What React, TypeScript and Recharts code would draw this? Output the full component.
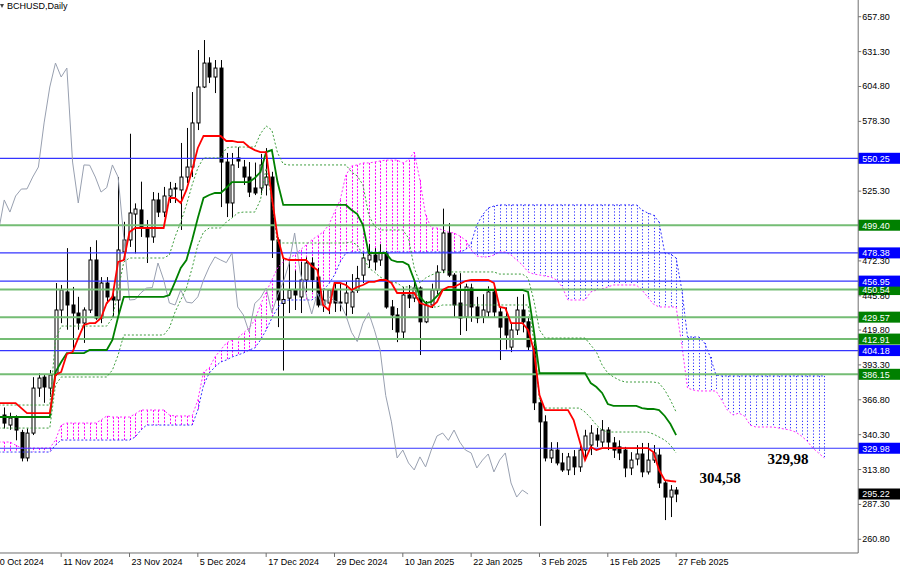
import React from 'react';
import { ComposedChart, Bar, Line, XAxis, YAxis, ReferenceLine, ReferenceDot } from 'recharts';

const FONT = '"Liberation Sans", Arial, sans-serif';
const SERIF = '"Liberation Serif", "Times New Roman", serif';

// x categories are day numbers, day 0 = 30 Oct 2024
const LAST_DAY = 151;
const tickDays = [0, 12, 24, 36, 48, 60, 72, 84, 96, 108, 120];
const tickLabels = ['30 Oct 2024', '11 Nov 2024', '23 Nov 2024', '5 Dec 2024', '17 Dec 2024', '29 Dec 2024',
  '10 Jan 2025', '22 Jan 2025', '3 Feb 2025', '15 Feb 2025', '27 Feb 2025'];
const priceTicks = [657.8, 631.3, 604.8, 578.3, 525.3, 472.3, 445.8, 419.8, 393.3, 366.8, 340.3, 313.8, 287.3, 260.8];
const blueLevels = [550.25, 478.38, 456.95, 404.18, 329.98];
const greenLevels = [499.4, 450.54, 429.57, 412.91, 386.15];
const lastPrice = 295.22;

// candles, day 2 .. day 120
const CANDLE_FROM = 2;
const opens = [
  355.2, 347.6, 352.9, 342, 322.6, 341.5, 375.7, 384, 375.7, 387,
  435, 448.7, 438.8, 432.7, 425.1, 435, 473, 428.9, 455.5, 444.9,
  442.6, 479.1, 488.2, 507.9, 511, 497.3, 490.5, 518.6, 509.4, 521.6,
  527.7, 526.2, 536, 543.6, 577.1, 604.4, 622.6, 612, 618.8, 547.4,
  516.3, 550.5, 543.6, 536, 527.7, 527.7, 530, 536, 488.2, 440,
  444, 450, 444.9, 457.8, 470.7, 460, 438.8, 440.3, 450.2, 441,
  440.3, 437.3, 450, 461.5, 473, 476.8, 473, 478.3, 437.3, 431.2,
  418.3, 446.4, 444.1, 451.7, 426, 438.8, 450.2, 465.4, 493.5, 461.5,
  440.3, 429.6, 451.7, 437.3, 429.6, 433.5, 448.7, 433.5, 430, 406.8,
  419.8, 435, 426, 407, 364.5, 350, 322.6, 328.6, 318.8, 313.5,
  323.4, 315.8, 328.6, 332.4, 340, 334.7, 343.8, 334, 331, 328.6,
  315, 321.8, 325.6, 312, 321, 324.8, 303.6, 292.9, 298.2,
];
const highs = [
  361, 357, 355, 344, 345, 384, 387, 386, 389.4, 455.5,
  454, 482, 452.5, 445, 437, 482.9, 488, 460, 460, 452.5,
  536, 502, 568.9, 516, 532.5, 503.4, 524.6, 524, 528.5, 532.3,
  531.5, 561.9, 573.3, 600.6, 632.5, 640.1, 627, 624.9, 624.9, 554.3,
  554.3, 558.7, 549, 547.4, 547, 553.6, 558, 540, 490, 475,
  473, 465, 471.5, 475, 475, 467, 450.2, 451, 455, 455,
  456.3, 462.3, 468.5, 478.5, 485, 482, 485, 480, 442.6, 436.5,
  452.5, 454, 457, 453, 441.8, 455, 469, 512, 501, 463,
  463, 455, 455, 445, 447, 453, 452, 437, 437, 425,
  445, 447, 430, 412, 367, 355, 334.6, 334.6, 326.4, 326.4,
  328.6, 334, 344, 347.6, 345.4, 351.4, 346, 338.5, 336, 331,
  327, 332.4, 334, 334, 332.4, 330, 305, 302, 300.5,
];
const lows = [
  345, 344, 336, 320, 320, 340, 369, 364.5, 369, 385,
  425, 420, 404.6, 420, 410, 432.7, 427.5, 425, 440, 429.6,
  429.6, 473, 482.9, 478, 490.5, 470.7, 486, 505.6, 505.6, 516.3,
  516.3, 495.8, 531.5, 536, 571.7, 603.6, 607.4, 599.8, 513.2, 505.6,
  505.6, 542.9, 530, 520.8, 522.3, 522.3, 522, 474.5, 422, 389,
  432.7, 435, 432.7, 448.7, 448.7, 437, 433.5, 431.9, 433.5, 434,
  430, 432, 448, 455.5, 467, 465, 468.5, 436, 419.8, 410.6,
  413.6, 436.5, 441, 400.8, 425, 436.5, 447, 463, 460, 429.6,
  416, 419, 426, 425, 425, 429.6, 429.6, 397, 405, 403,
  416, 418, 404, 359, 271, 320, 318.8, 317, 312, 309.6,
  309.6, 312, 321, 324.8, 331, 331, 328.6, 322.6, 321, 308,
  309.6, 317, 308, 310, 318.8, 299.8, 275.4, 277.7, 289,
];
const closes = [
  349.1, 352.9, 343.8, 322.6, 341.5, 375.7, 383.3, 376.5, 385.6, 435,
  450.2, 438.8, 432.7, 425.1, 435, 473, 428.9, 455.5, 444.9, 442.6,
  480.6, 488.2, 508.7, 511.7, 497.3, 490.5, 518.6, 509.4, 521.6, 526.9,
  527, 536, 543.6, 577.1, 604.4, 622.6, 612, 618.8, 547.4, 516.3,
  545.2, 548.2, 536, 524.6, 523.9, 545.2, 536, 488.2, 442.6, 443,
  450, 446.4, 457.8, 470.7, 458, 438.8, 442.6, 450.2, 440.3, 440.3,
  447.9, 448.7, 459, 474.5, 476.8, 471.5, 478.3, 437.3, 431.2, 418.3,
  446.4, 444.1, 451.7, 426, 438.8, 450.2, 463.8, 493.5, 461.5, 438.8,
  428.9, 452.5, 437.3, 428.9, 435, 448.7, 433.5, 422, 416, 419.8,
  435, 426, 407, 364.5, 350, 322.6, 328.6, 318.8, 313.5, 323.4,
  315.8, 328.6, 339.3, 341.5, 336.2, 343.8, 334.7, 328.6, 326.4, 315,
  321, 325.6, 312, 321, 326.4, 303.6, 292.9, 298.2, 295.2,
];

// Ichimoku lines, day 1 onward
const tenkan = [
  364.3, 364.3, 364.3, 364.3, 360.5, 356.7, 356.7, 356.7, 356.7, 356.7,
  385.6, 387.9, 401.6, 403.1, 413.7, 423.6, 425.1, 425.1, 428.9, 440.3,
  444.9, 471.5, 473, 494.2, 497.3, 497.3, 497.3, 497.3, 497.3, 497.3,
  520.1, 520.1, 516.3, 526.2, 541.3, 558.1, 567.2, 567.2, 567.2, 567.2,
  563.4, 563.4, 562.6, 562.6, 558.8, 556.5, 555, 555, 520.8, 490.5,
  474.5, 473, 473, 473, 473, 468.4, 465.4, 438.8, 435, 455.5,
  455.5, 454, 450.2, 452.5, 454, 456.3, 456.3, 457.8, 457.8, 455.5,
  447.9, 447.9, 447.9, 447.9, 440.3, 438.8, 437.3, 441.1, 450.2, 452.5,
  452.5, 454.7, 457, 457.8, 457.8, 457.8, 457.8, 455.5, 437.3, 436.5,
  425.1, 425.1, 425.1, 419.8, 404.6, 370.4, 359, 359, 359, 359,
  359, 351.4, 336.2, 321, 330.9, 328.6, 330.1, 330.1, 330.1, 330.1,
  330.1, 330.1, 330.1, 330.1, 330.1, 327.1, 313.4, 305.8, 305.1, 304.6,
];
const kijun = [
  353.7, 353.7, 353.7, 353.7, 353.7, 353.7, 353.7, 353.7, 353.7, 353.7,
  387.9, 395.5, 402.3, 402.3, 402.3, 402.3, 404.6, 404.6, 404.6, 404.6,
  412.2, 429.7, 444.9, 444.9, 444.9, 444.9, 444.9, 444.9, 444.9, 444.9,
  446.4, 456.3, 466.9, 473, 488.2, 504.9, 520.1, 522.4, 523.9, 523.9,
  527.7, 532.2, 532.2, 532.2, 532.2, 535.3, 539.8, 555, 556.5, 532.2,
  514.8, 514.8, 514.8, 514.8, 514.8, 514.8, 514.8, 514.8, 514.8, 514.8,
  514.8, 514.8, 511, 507.9, 499.6, 478.3, 478.3, 478.3, 478.3, 473,
  471.5, 471.5, 469.2, 457.8, 444.9, 440.3, 441.1, 445.6, 450.2, 450.2,
  450.2, 450.2, 450.2, 450.2, 450.2, 450.2, 450.2, 450.2, 450.2, 450.2,
  450.2, 450.2, 450.2, 448.7, 419.8, 387.1, 387.1, 387.1, 387.1, 387.1,
  387.1, 387.1, 387.1, 387.1, 379.5, 376.5, 372, 363.6, 362.1, 362.1,
  362.1, 362.1, 362.1, 360.5, 359.8, 359.8, 359, 354.5, 348.4, 340,
];
const spanA = [
  334.7, 334.7, 334.7, 332.4, 330.1, 330.1, 330.1, 330.1, 330.1, 330.1,
  336.2, 347.6, 349.1, 349.1, 349.1, 349.1, 349.1, 349.1, 351.4, 354.5,
  353.7, 353.7, 353.7, 353.7, 356, 359, 359, 359, 359, 359,
  355.2, 354.5, 354.5, 354.5, 354.5, 366.6, 387.9, 390.9, 399.3, 404.6,
  409.9, 412.2, 413.7, 417.5, 421.3, 427.4, 438.8, 448.7, 457.8, 466.9,
  471.5, 474.5, 476.8, 480.6, 484.4, 488.2, 491.2, 494.2, 499.6, 509.4,
  518.6, 537.5, 544.4, 545.2, 546.7, 546.7, 547.4, 548.2, 548.9, 548.9,
  548.9, 546.7, 548.9, 555, 533.8, 507.2, 497.3, 497.3, 495.8, 494.2,
  493.5, 491.2, 488.2, 480.6, 476, 475.3, 475.3, 476.8, 479.1, 479.1,
  476.8, 473, 469.2, 463.9, 462.3, 461.6, 460.8, 460.1, 457.8, 452.5,
  442.6, 442.6, 442.6, 442.6, 448.7, 450.2, 451, 452.5, 454, 454,
  454, 454, 454, 450.2, 444.9, 439.5, 437.3, 437.3, 437.3, 437.3,
  408.4, 375.7, 374.2, 373.5, 373.5, 373.5, 373.5, 366.6, 359, 355.2,
  356.7, 354.5, 347.6, 346.1, 346.1, 346.1, 346.1, 345.3, 344.6, 343.8,
  342.3, 339.3, 335.5, 330.1, 326.4, 322.6,
];
const spanB = [
  327.1, 327.1, 327.1, 327.1, 327.1, 327.1, 327.1, 327.1, 327.1, 327.1,
  332.4, 336.2, 336.2, 336.2, 336.2, 336.2, 336.2, 336.2, 336.2, 336.2,
  336.2, 336.2, 336.2, 336.2, 338.5, 343.8, 347.6, 347.6, 347.6, 347.6,
  347.6, 347.6, 347.6, 347.6, 347.6, 359, 378, 387.1, 391.7, 395.5,
  397, 399.3, 400.8, 402.3, 404.6, 406.1, 412.2, 419.8, 428.9, 436.5,
  441.8, 442.6, 442.6, 442.6, 442.6, 442.6, 445.6, 450.2, 454.7, 461.6,
  471.5, 478.3, 479.1, 479.1, 479.1, 479.1, 479.1, 479.1, 479.1, 479.1,
  479.1, 479.1, 479.1, 479.1, 479.1, 479.1, 479.1, 479.1, 479.1, 479.1,
  479.1, 479.1, 480.6, 485.9, 499.6, 507.2, 512.5, 514, 514.8, 514.8,
  514.8, 514.8, 514.8, 514.8, 514.8, 514.8, 514.8, 514.8, 514.8, 514.8,
  514.8, 514.8, 514.8, 514.8, 514.8, 514.8, 514.8, 514.8, 514.8, 514.8,
  514.8, 514.8, 514.8, 511, 508.7, 507.2, 501.8, 478.3, 477.5, 474.5,
  450.2, 414.5, 414.5, 414.5, 409.9, 399.3, 385.6, 384.9, 384.9, 384.9,
  384.9, 384.9, 384.9, 384.9, 384.9, 384.9, 384.9, 384.9, 384.9, 384.9,
  384.9, 384.9, 384.9, 384.9, 384.9, 384.9,
];
const chikou = [
  495, 518.6, 509.4, 521.6, 526.9, 527, 536, 543.6, 577.1, 604.4,
  622.6, 612, 618.8, 547.4, 516.3, 545.2, 545, 536, 524.6, 528,
  545.2, 536, 490, 442.6, 443, 448, 451.7, 452, 470.7, 458,
  440.3, 438.8, 450.2, 441, 440.3, 445, 457.8, 467.7, 475.3, 473,
  471, 478.3, 437.3, 431.2, 418.3, 440, 444.1, 451.7, 433, 446,
  456, 470, 493.5, 463, 447, 432, 448, 437.3, 445, 442,
  440, 431, 418, 411, 425, 433, 420, 405, 370, 350,
  322.6, 328.6, 318.8, 313.5, 323.4, 315.8, 328.6, 339.3, 341.5, 336,
  343.8, 334.7, 328.6, 326.4, 315, 321, 325.6, 312, 321, 326.4,
  303.6, 292.9, 298.2, 295.2,
];
// two green dotted guide lines, day 1 onward
const dotUpper = [
  362.8, 362.8, 362.8, 362.8, 362.8, 362.8, 362.8, 362.8, 362.8, 362.8,
  412.2, 422.8, 422.8, 422.8, 422.8, 422.8, 422.8, 422.8, 422.8, 422.8,
  428.9, 450.2, 471.5, 474.5, 474.5, 474.5, 474.5, 474.5, 474.5, 474.5,
  476.8, 490.5, 501.8, 514.8, 530, 542.9, 550.5, 550.5, 550.5, 550.5,
  558.1, 558.8, 558.8, 558.8, 558.8, 558.8, 568.9, 574.8, 571.7, 554.3,
  545.9, 545.2, 545.2, 545.2, 545.2, 545.2, 545.2, 545.2, 545.2, 545.2,
  545.2, 545.2, 539.8, 536.8, 530, 507.2, 498.8, 495.8, 495.8, 495.8,
  495.8, 495.8, 489.7, 466.9, 455.5, 459.3, 461.6, 463.1, 463.9, 463.9,
  463.9, 463.9, 463.9, 463.9, 463.9, 463.9, 463.9, 463.9, 462.3, 462.3,
  462.3, 462.3, 462.3, 459.3, 442.6, 419.8, 413.7, 413.7, 413.7, 413.7,
  413.7, 413.7, 413.7, 413.7, 408.4, 403.1, 393.2, 387.1, 384.1, 381.8,
  380.3, 380.3, 380.3, 380.3, 380.3, 380.3, 379.5, 374.2, 366.6, 357.5,
];
const dotLower = [
  345.3, 345.3, 345.3, 345.3, 345.3, 345.3, 345.3, 345.3, 345.3, 345.3,
  378, 384.1, 384.1, 384.1, 384.1, 384.1, 384.1, 384.1, 384.1, 384.1,
  389.4, 400.8, 416, 416, 416, 416, 416, 416, 416, 416,
  421.3, 433.5, 442.6, 451.7, 466.9, 484.4, 494.2, 497.3, 497.3, 497.3,
  501.8, 504.9, 508.7, 509.4, 509.4, 509.4, 518.6, 542.9, 518.6, 485.9,
  485.9, 485.9, 485.9, 485.9, 485.9, 485.9, 485.9, 485.9, 485.9, 485.9,
  485.9, 485.9, 486.7, 484.4, 476.8, 466.9, 463.9, 460.1, 457.8, 456.3,
  455.5, 452.5, 452.5, 452.5, 440.3, 438.8, 437.3, 437.3, 438.8, 438.8,
  438.8, 438.8, 438.8, 438.8, 438.8, 438.8, 438.8, 438.8, 438.8, 438.8,
  438.8, 438.8, 438.8, 438.8, 412.2, 366.6, 360.5, 360.5, 360.5, 360.5,
  360.5, 360.5, 360.5, 357.5, 353, 347.6, 343.8, 342.3, 342.3, 342.3,
  342.3, 342.3, 342.3, 342.3, 342.3, 340.8, 338.5, 336.2, 332.4, 326.4,
];

const pick = (arr: number[], start: number, d: number) => {
  const v = arr[d - start];
  return v === undefined ? null : v;
};

const rows: any[] = [];
for (let d = 0; d <= LAST_DAY; d++) {
  const o = pick(opens, CANDLE_FROM, d);
  const h = pick(highs, CANDLE_FROM, d);
  const l = pick(lows, CANDLE_FROM, d);
  const c = pick(closes, CANDLE_FROM, d);
  const a = pick(spanA, 1, d);
  const b = pick(spanB, 1, d);
  rows.push({
    d, o, h, l, c,
    candle: o === null ? null : [l, h],
    tenkan: pick(tenkan, 1, d),
    kijun: pick(kijun, 1, d),
    chikou: pick(chikou, 1, d),
    dotUpper: pick(dotUpper, 1, d),
    dotLower: pick(dotLower, 1, d),
    spanA: a,
    spanB: b,
    cloud: a === null || b === null ? null : [Math.min(a, b), Math.max(a, b)],
    bull: a !== null && b !== null && a >= b,
  });
}

function Candle(props: any) {
  const { x, y, width, height, payload } = props;
  if (!payload || payload.o === null) return null;
  const top = Math.min(y, y + height);
  const bot = Math.max(y, y + height);
  const span = payload.h - payload.l || 1;
  const py = (p: number) => top + ((payload.h - p) / span) * (bot - top);
  const cx = Math.round(x + width / 2) + 0.5;
  const bTop = py(Math.max(payload.o, payload.c));
  const bBot = py(Math.min(payload.o, payload.c));
  const up = payload.c >= payload.o;
  return (
    <g>
      <line x1={cx} x2={cx} y1={top} y2={bot} stroke="#000" strokeWidth={1} />
      <rect x={cx - 1.5} y={bTop} width={3} height={Math.max(bBot - bTop, 1)}
        fill={up ? '#fff' : '#000'} stroke="#000" strokeWidth={1} />
    </g>
  );
}

// one dotted vertical per bar between the two spans
function Hatch(props: any) {
  const { x, y, width, height, payload } = props;
  if (!payload || payload.cloud === null) return null;
  const cx = Math.round(x + width / 2) + 0.5;
  const top = Math.min(y, y + height);
  const bot = Math.max(y, y + height);
  return payload.bull
    ? <line x1={cx} x2={cx} y1={top} y2={bot} stroke="#ff00ff" strokeWidth={1} strokeDasharray="2 1.5" />
    : <line x1={cx} x2={cx} y1={top} y2={bot} stroke="#2a2aff" strokeWidth={1} strokeDasharray="1.2 2" />;
}

const DateTick = ({ x, y, payload }: any) => {
  const i = tickDays.indexOf(payload.value);
  if (i < 0) return null;
  return (
    <text x={x + 2} y={y + 6} fontSize={9} fontFamily={FONT} fill="#000" textAnchor="start">
      {tickLabels[i]}
    </text>
  );
};

const PriceTick = ({ x, y, payload }: any) => (
  <text x={x} y={y + 3} fontSize={9} fontFamily={FONT} fill="#000" textAnchor="start">
    {payload.value.toFixed(2)}
  </text>
);

const priceTag = (value: number, bg: string) => (props: any) => {
  const vb = props.viewBox;
  const x = vb.x + vb.width;
  return (
    <g>
      <rect x={x} y={vb.y - 5.5} width={46} height={11} fill={bg} />
      <text x={x + 4} y={vb.y + 3.5} fontSize={9} fontFamily={FONT} fill="#fff">{value.toFixed(2)}</text>
    </g>
  );
};

const note = (text: string, dx: number, dy: number) => (props: any) => {
  const vb = props.viewBox;
  return (
    <text x={vb.x + vb.width / 2 + dx} y={vb.y + vb.height / 2 + dy} textAnchor="middle"
      fontSize={15} fontWeight="bold" fontFamily={SERIF} fill="#000">{text}</text>
  );
};

export default function App() {
  const pad = { left: 0, right: 2.7 };
  return (
    <div style={{ position: 'absolute', left: 0, top: 0, width: 900, height: 569, overflow: 'hidden', background: '#fff' }}>
      <div style={{ position: 'absolute', left: -10.18, top: 0 }}>
        <ComposedChart width={910.2} height={569} data={rows} margin={{ top: 0, right: 0, bottom: 0, left: 0 }}>
          <XAxis dataKey="d" height={16} padding={pad} ticks={tickDays} interval={0} tick={<DateTick />}
            tickSize={4} tickMargin={2} stroke="#6e6e6e" />
          <XAxis xAxisId="h" dataKey="d" hide padding={pad} />
          <YAxis orientation="right" width={42} domain={[250.4, 670.5]} allowDataOverflow ticks={priceTicks}
            interval={0} tick={<PriceTick />} tickSize={3} tickMargin={1} stroke="#6e6e6e" />

          <Bar xAxisId="h" dataKey="cloud" shape={<Hatch />} isAnimationActive={false} />
          <Line dataKey="spanA" stroke="#ff2cff" strokeWidth={1} strokeDasharray="2 2" dot={false} activeDot={false} isAnimationActive={false} />
          <Line dataKey="spanB" stroke="#3030ff" strokeWidth={1} strokeDasharray="2 2" dot={false} activeDot={false} isAnimationActive={false} />

          {greenLevels.map((v) => (
            <ReferenceLine key={'g' + v} y={v} stroke="#74bd74" strokeWidth={2} label={priceTag(v, '#008000')} />
          ))}
          {blueLevels.map((v) => (
            <ReferenceLine key={'b' + v} y={v} stroke="#3434ff" strokeWidth={1.2} label={priceTag(v, '#0000ff')} />
          ))}

          <Line dataKey="chikou" stroke="#98a0b0" strokeWidth={1} dot={false} activeDot={false} isAnimationActive={false} />
          <Line dataKey="dotUpper" stroke="#3c9c3c" strokeWidth={1} strokeDasharray="2 2" dot={false} activeDot={false} isAnimationActive={false} />
          <Line dataKey="dotLower" stroke="#3c9c3c" strokeWidth={1} strokeDasharray="2 2" dot={false} activeDot={false} isAnimationActive={false} />

          <Bar dataKey="candle" shape={<Candle />} isAnimationActive={false} />

          <Line dataKey="kijun" stroke="#008000" strokeWidth={1.8} dot={false} activeDot={false} isAnimationActive={false} />
          <Line dataKey="tenkan" stroke="#ff0000" strokeWidth={1.8} dot={false} activeDot={false} isAnimationActive={false} />

          <ReferenceLine y={lastPrice} stroke="none" label={priceTag(lastPrice, '#000000')} />
          <ReferenceDot x={128} y={304.58} r={1} fill="none" stroke="none" label={note('304,58', -1.5, 1.5)} />
          <ReferenceDot x={140} y={329.98} r={1} fill="none" stroke="none" label={note('329,98', -2, 16)} />
        </ComposedChart>
      </div>
      <div style={{ position: 'absolute', left: 0, top: 4, width: 0, height: 0, borderLeft: '2px solid transparent',
        borderRight: '2px solid transparent', borderTop: '4px solid #444' }} />
      <div style={{ position: 'absolute', left: 7, top: 0, fontFamily: FONT, fontSize: 9, color: '#000', lineHeight: '12px' }}>
        BCHUSD,Daily
      </div>
    </div>
  );
}
